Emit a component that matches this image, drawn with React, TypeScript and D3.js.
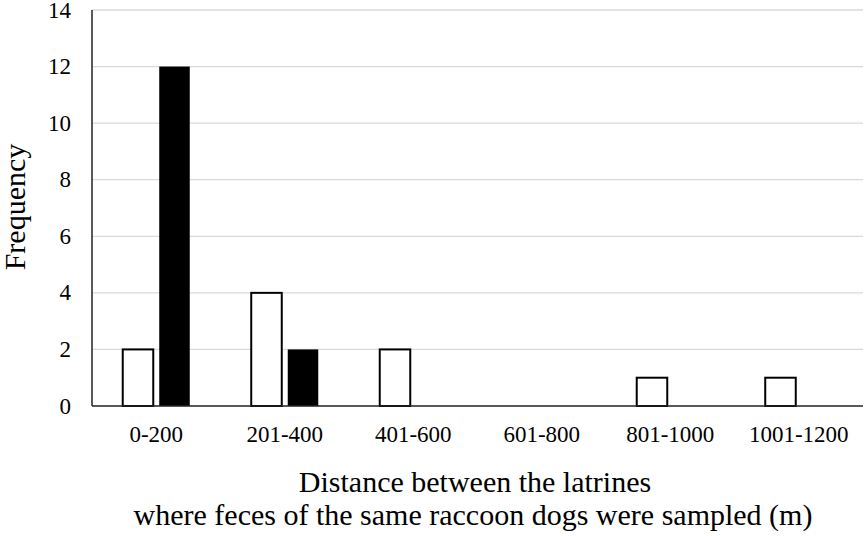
import { useEffect, useRef } from "react";
import * as d3 from "d3";

const categories = [ "0-200", "201-400", "401-600", "601-800", "801-1000", "1001-1200" ];
const openValues = [ 2, 4, 2, 0, 1, 1 ];
const filledValues = [ 12, 2, 0, 0, 0, 0 ];
const yTicks = [ 0, 2, 4, 6, 8, 10, 12, 14 ];
const seriesKeys = [ "open", "filled" ];

const W = 866;
const H = 536;
const FONT = "Liberation Serif, Times New Roman, serif";

export default function App ()
{
    const svgRef = useRef<SVGSVGElement>( null );

    useEffect( () =>
    {
        if ( !svgRef.current ) return;
        const svg = d3.select( svgRef.current );
        svg.selectAll( "*" ).remove();

        const left = 92, right = 863, top = 10, bottom = 406;

        const x = d3.scaleBand<string>().domain( categories ).range( [ left, right ] ).padding( 0 );
        const xs = d3.scaleBand<string>().domain( seriesKeys ).range( [ 0, x.bandwidth() ] )
            .paddingInner( 0.164 ).paddingOuter( 0.842 );
        const y = d3.scaleLinear().domain( [ 0, 14 ] ).range( [ bottom, top ] );

        // Gridlines
        svg.append( "g" ).selectAll( "line" ).data( yTicks.filter( t => t > 0 ) ).join( "line" )
            .attr( "x1", left ).attr( "x2", right )
            .attr( "y1", d => y( d ) ).attr( "y2", d => y( d ) )
            .attr( "stroke", "#d9d9d9" ).attr( "stroke-width", 1.3 );

        // Bars
        const rows = categories.map( ( c, i ) => ( { c, open: openValues[ i ], filled: filledValues[ i ] } ) );
        const groups = svg.append( "g" ).selectAll( "g" ).data( rows ).join( "g" )
            .attr( "transform", d => `translate(${ x( d.c ) },0)` );

        groups.filter( d => d.open > 0 ).append( "rect" )
            .attr( "x", xs( "open" )! ).attr( "width", xs.bandwidth() )
            .attr( "y", d => y( d.open ) ).attr( "height", d => y( 0 ) - y( d.open ) )
            .attr( "fill", "#fff" ).attr( "stroke", "#000" ).attr( "stroke-width", 2 );

        groups.filter( d => d.filled > 0 ).append( "rect" )
            .attr( "x", xs( "filled" )! ).attr( "width", xs.bandwidth() )
            .attr( "y", d => y( d.filled ) ).attr( "height", d => y( 0 ) - y( d.filled ) )
            .attr( "fill", "#000" );

        // Axis lines
        svg.append( "line" ).attr( "x1", left ).attr( "x2", left ).attr( "y1", top ).attr( "y2", bottom )
            .attr( "stroke", "#222" ).attr( "stroke-width", 1.5 );
        svg.append( "line" ).attr( "x1", left ).attr( "x2", right ).attr( "y1", bottom ).attr( "y2", bottom )
            .attr( "stroke", "#222" ).attr( "stroke-width", 1.5 );

        const txt = svg.append( "g" ).attr( "font-family", FONT ).attr( "fill", "#000" );

        // Y tick labels
        txt.append( "g" ).selectAll( "text" ).data( yTicks ).join( "text" )
            .attr( "x", 71 ).attr( "y", d => y( d ) ).attr( "dy", "0.33em" )
            .attr( "text-anchor", "end" ).attr( "font-size", 23 ).text( d => String( d ) );

        // X tick labels
        txt.append( "g" ).selectAll( "text" ).data( categories ).join( "text" )
            .attr( "x", d => x( d )! + x.bandwidth() / 2 ).attr( "y", 442 )
            .attr( "text-anchor", "middle" ).attr( "font-size", 23 ).text( d => d );

        // Axis titles
        txt.append( "text" ).attr( "transform", "translate(25,207) rotate(-90)" )
            .attr( "text-anchor", "middle" ).attr( "font-size", 30 ).text( "Frequency" );

        txt.append( "text" ).attr( "x", 475 ).attr( "y", 492 )
            .attr( "text-anchor", "middle" ).attr( "font-size", 30 ).text( "Distance between the latrines" );
        txt.append( "text" ).attr( "x", 473 ).attr( "y", 525 )
            .attr( "text-anchor", "middle" ).attr( "font-size", 30 )
            .text( "where feces of the same raccoon dogs were sampled (m)" );
    }, [] );

    return (
        <svg ref={ svgRef } width={ W } height={ H }
            style={ { position: "absolute", left: 0, top: 0, background: "#fff" } } />
    );
}
